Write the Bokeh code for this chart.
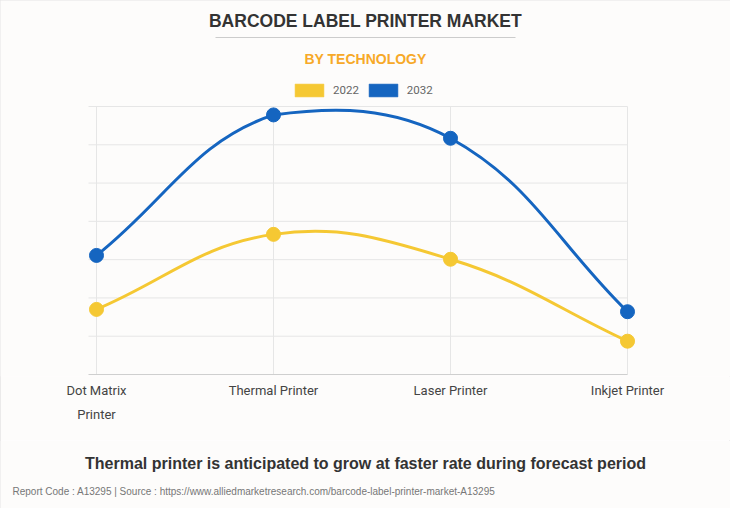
import math
from bokeh.plotting import figure
from bokeh.layouts import column
from bokeh.models import Range1d, FixedTicker, Label, BoxAnnotation, Legend, LegendItem
from bokeh.embed import file_html
from bokeh.resources import INLINE

# ---- data ----
categories = ["Dot Matrix\nPrinter", "Thermal Printer", "Laser Printer", "Inkjet Printer"]
values_2022 = [170, 366, 301, 87]
values_2032 = [311, 678, 617, 164]
y_ticks = [0, 100, 200, 300, 400, 500, 600, 700]
series = ["2022", "2032"]
colors = ["#F5C833", "#1565C0"]

# ---- layout constants (pixels) ----
W, H = 730, 508
H_MAIN = 440                           # main chart figure; caption figure below
AREA_LEFT, AREA_RIGHT = 96, 627        # plotting area in canvas pixels
AREA_TOP, AREA_BOTTOM = 106, 374
FRAME_BOTTOM = 376                     # frame spans from canvas top to here
BG = "#FDFCFB"
n_cat = len(categories)
CAT_PX = (AREA_RIGHT - AREA_LEFT) / (n_cat - 1)
Y_PX = (AREA_BOTTOM - AREA_TOP) / (y_ticks[-1] - y_ticks[0])
xs = list(range(n_cat))
TICK_EXT = 8 / CAT_PX
NAN = float("nan")

p = figure(width=W, height=H_MAIN,
           x_range=Range1d(-AREA_LEFT / CAT_PX, (W - AREA_LEFT) / CAT_PX),
           y_range=Range1d(-(FRAME_BOTTOM - AREA_BOTTOM) / Y_PX, AREA_BOTTOM / Y_PX),
           output_backend="svg", toolbar_location=None, title_location=None,
           min_border_left=0, min_border_right=0, min_border_top=0,
           min_border_bottom=H_MAIN - FRAME_BOTTOM)
p.background_fill_color = BG
p.border_fill_color = BG
p.outline_line_color = None
p.xgrid.grid_line_color = None
p.ygrid.grid_line_color = None
p.yaxis.visible = False

# gridlines (horizontal incl. 8px tick extension on the left, vertical at categories)
grid_col = "#E6E6E6"
p.segment(x0=[-TICK_EXT] * (len(y_ticks) - 1), x1=[xs[-1]] * (len(y_ticks) - 1),
          y0=y_ticks[1:], y1=y_ticks[1:], line_color=grid_col, line_width=1)
p.segment(x0=xs, x1=xs, y0=[y_ticks[0]] * len(xs), y1=[y_ticks[-1]] * len(xs),
          line_color=grid_col, line_width=1)
p.segment(x0=[-TICK_EXT], x1=[xs[-1]], y0=[y_ticks[0]], y1=[y_ticks[0]],
          line_color="#CFCFCF", line_width=1)

# x axis labels
xa = p.xaxis[0]
xa.ticker = FixedTicker(ticks=xs)
xa.major_label_overrides = {i: c for i, c in zip(xs, categories)}
xa.axis_line_color = None
xa.major_tick_line_color = None
xa.minor_tick_line_color = None
xa.major_label_standoff = 0
xa.major_label_text_font = "Roboto"
xa.major_label_text_font_size = "13px"
xa.major_label_text_line_height = 1.6
xa.major_label_text_color = "#444444"


def spline_controls(xp, yp, top, bottom, t=0.4):
    n = len(xp)
    prev_cp, next_cp = [], []
    for i in range(n):
        x0, y0 = (xp[i - 1], yp[i - 1]) if i > 0 else (xp[i], yp[i])
        x1, y1 = xp[i], yp[i]
        x2, y2 = (xp[i + 1], yp[i + 1]) if i < n - 1 else (xp[i], yp[i])
        d01 = math.hypot(x1 - x0, y1 - y0)
        d12 = math.hypot(x2 - x1, y2 - y1)
        tot = d01 + d12
        s01 = d01 / tot if tot else 0.0
        s12 = d12 / tot if tot else 0.0
        fa, fb = t * s01, t * s12
        cap = lambda v: min(max(v, bottom), top)
        prev_cp.append((x1 - fa * (x2 - x0), cap(y1 - fa * (y2 - y0))))
        next_cp.append((x1 + fb * (x2 - x0), cap(y1 + fb * (y2 - y0))))
    return prev_cp, next_cp


legend_items = []
for name, vals, col in zip(series, [values_2022, values_2032], colors):
    xp = [x * CAT_PX for x in xs]
    yp = [v * Y_PX for v in vals]
    pc, nc = spline_controls(xp, yp, y_ticks[-1] * Y_PX, y_ticks[0] * Y_PX)
    m = len(xs) - 1
    p.bezier(x0=xs[:-1], y0=vals[:-1], x1=xs[1:], y1=vals[1:],
             cx0=[nc[i][0] / CAT_PX for i in range(m)],
             cy0=[nc[i][1] / Y_PX for i in range(m)],
             cx1=[pc[i + 1][0] / CAT_PX for i in range(m)],
             cy1=[pc[i + 1][1] / Y_PX for i in range(m)],
             line_color=col, line_width=3)
    p.scatter(xs, vals, size=14, fill_color=col, line_color=col)
    # legend swatch (box), drawn only in the legend
    proxy = p.quad(left=[NAN], right=[NAN], top=[NAN], bottom=[NAN],
                   fill_color=col, line_color=col, line_alpha=0.55)
    legend_items.append(LegendItem(label=name, renderers=[proxy]))

legend = Legend(items=legend_items, orientation="horizontal",
                location=(291, FRAME_BOTTOM - 98),
                glyph_width=36, glyph_height=16, label_standoff=6, spacing=6,
                padding=0, margin=0, border_line_color=None, background_fill_alpha=0,
                label_text_font="Roboto", label_text_font_size="11.5px",
                label_text_color="#666666")
p.add_layout(legend, "center")


def lbl(fig, frame_bottom, text, X, Y, size, color, style="normal", font="Liberation Sans", align="center"):
    fig.add_layout(Label(x=X, y=frame_bottom - Y, x_units="screen", y_units="screen",
                         text=text, text_font=font, text_font_size=size, text_color=color,
                         text_font_style=style, text_align=align, text_baseline="middle"))


lbl(p, FRAME_BOTTOM, "BARCODE LABEL PRINTER MARKET", 365, 20, "17.5px", "#333333", "bold")
lbl(p, FRAME_BOTTOM, "BY TECHNOLOGY", 365, 58, "14px", "#F7A928", "bold")

p.add_layout(BoxAnnotation(left=215, right=515,
                           bottom=FRAME_BOTTOM - 37.5, top=FRAME_BOTTOM - 36.5,
                           left_units="screen", right_units="screen", top_units="screen", bottom_units="screen",
                           fill_color="#CCCCCC", fill_alpha=1, line_color=None))

# ---- caption strip below the chart ----
H_CAP = H - H_MAIN
cap = figure(width=W, height=H_CAP, x_range=Range1d(0, 1), y_range=Range1d(0, 1),
             output_backend="svg", toolbar_location=None, title_location=None,
             min_border_left=0, min_border_right=0, min_border_top=0, min_border_bottom=0)
cap.axis.visible = False
cap.grid.grid_line_color = None
cap.background_fill_color = BG
cap.border_fill_color = BG
cap.outline_line_color = None

# positions given in page pixels; frame bottom of the strip is the page bottom
lbl(cap, H, "Thermal printer is anticipated to grow at faster rate during forecast period",
    365, 463, "16px", "#333333", "bold")
lbl(cap, H, "Report Code : A13295  |  Source : https://www.alliedmarketresearch.com/barcode-label-printer-market-A13295",
    12, 491, "10px", "#777777", align="left")

layout = column(p, cap, spacing=0)
layout.styles = {"outline": "1px solid #E4E4E4", "outline-offset": "-1px"}
open("out.html", "w").write(file_html(layout, INLINE))
